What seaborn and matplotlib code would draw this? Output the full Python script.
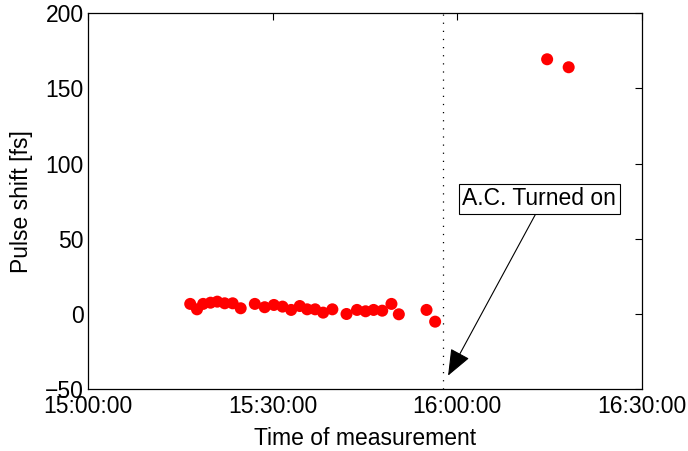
import pandas as pd
import matplotlib
matplotlib.use("Agg")
import matplotlib.pyplot as plt
import matplotlib.dates as mdates
import seaborn as sns

# values
times = ["15:16:36", "15:17:42", "15:18:42", "15:19:54", "15:21:00", "15:22:12",
         "15:23:30", "15:24:48", "15:27:06", "15:28:42", "15:30:12", "15:31:36",
         "15:33:00", "15:34:24", "15:35:36", "15:36:54", "15:38:12", "15:39:42",
         "15:42:00", "15:43:42", "15:45:06", "15:46:24", "15:47:48", "15:49:18",
         "15:50:30", "15:55:00", "15:56:24", "16:14:36", "16:18:06"]
shift_fs = [6.7, 3.1, 6.7, 7.5, 8.2, 7.1, 7.1, 3.8, 6.7, 4.5, 6.0, 4.9,
            2.7, 5.3, 3.1, 3.1, 0.9, 3.1, 0.0, 2.7, 1.8, 2.7, 2.2, 6.7,
            -0.2, 2.7, -5.1, 169.3, 164.0]
ac_on_time = "15:57:36"
x_ticks = ["15:00:00", "15:30:00", "16:00:00", "16:30:00"]
y_ticks = [-50, 0, 50, 100, 150, 200]

day = "2010-01-01 "
df = pd.DataFrame({"time": pd.to_datetime([day + t for t in times]),
                   "shift": shift_fs})

sns.set_style("white")
plt.rcParams['font.family'] = ['Liberation Sans', 'DejaVu Sans']
plt.rcParams['xtick.direction'] = 'in'
plt.rcParams['ytick.direction'] = 'in'
for k in ['text.color', 'axes.labelcolor', 'xtick.color', 'ytick.color']:
    plt.rcParams[k] = 'black'

fig = plt.figure(figsize=(6.88, 4.51), dpi=100)
ax = fig.add_axes([0.128, 0.137, 0.805, 0.834])

sns.scatterplot(data=df, x="time", y="shift", ax=ax, color="red",
                s=75, edgecolor="none", legend=False)

ac_x = pd.to_datetime(day + ac_on_time)
ax.axvline(ac_x, color="black", linestyle=(0, (1, 5.5)), lw=0.9)

tick_dt = pd.to_datetime([day + t for t in x_ticks])
ax.set_xlim(tick_dt[0], tick_dt[-1])
ax.set_xticks(tick_dt)
ax.xaxis.set_major_formatter(mdates.DateFormatter("%H:%M:%S"))
ax.set_ylim(-50, 200)
ax.set_yticks(y_ticks)
ax.set_yticklabels(["\u221250" if v < 0 else str(v) for v in y_ticks])

ax.tick_params(labelsize=16.5, length=5, width=0.8, top=True, right=True,
               color="black")
ax.tick_params(axis="x", pad=4)
ax.tick_params(axis="y", pad=3)
for sp in ax.spines.values():
    sp.set_color("black")
    sp.set_linewidth(0.9)

ax.set_xlabel("Time of measurement", fontsize=16.5, labelpad=7)
ax.set_ylabel("Pulse shift [fs]", fontsize=16.5, labelpad=9)

tip = mdates.date2num(pd.to_datetime(day + "15:58:30"))
txt = mdates.date2num(pd.to_datetime(day + "16:13:18"))
ax.annotate("A.C. Turned on", xy=(tip, -41), xytext=(txt, 76.5),
            fontsize=16.5, ha="center", va="center",
            bbox=dict(boxstyle="square,pad=0.15", fc="white", ec="black", lw=0.8),
            arrowprops=dict(arrowstyle="-|>,head_length=1.0,head_width=0.4",
                            color="black", lw=0.8, shrinkA=0, shrinkB=0,
                            relpos=(0.49, 0.0)))

fig.savefig("out.png", dpi=100)
